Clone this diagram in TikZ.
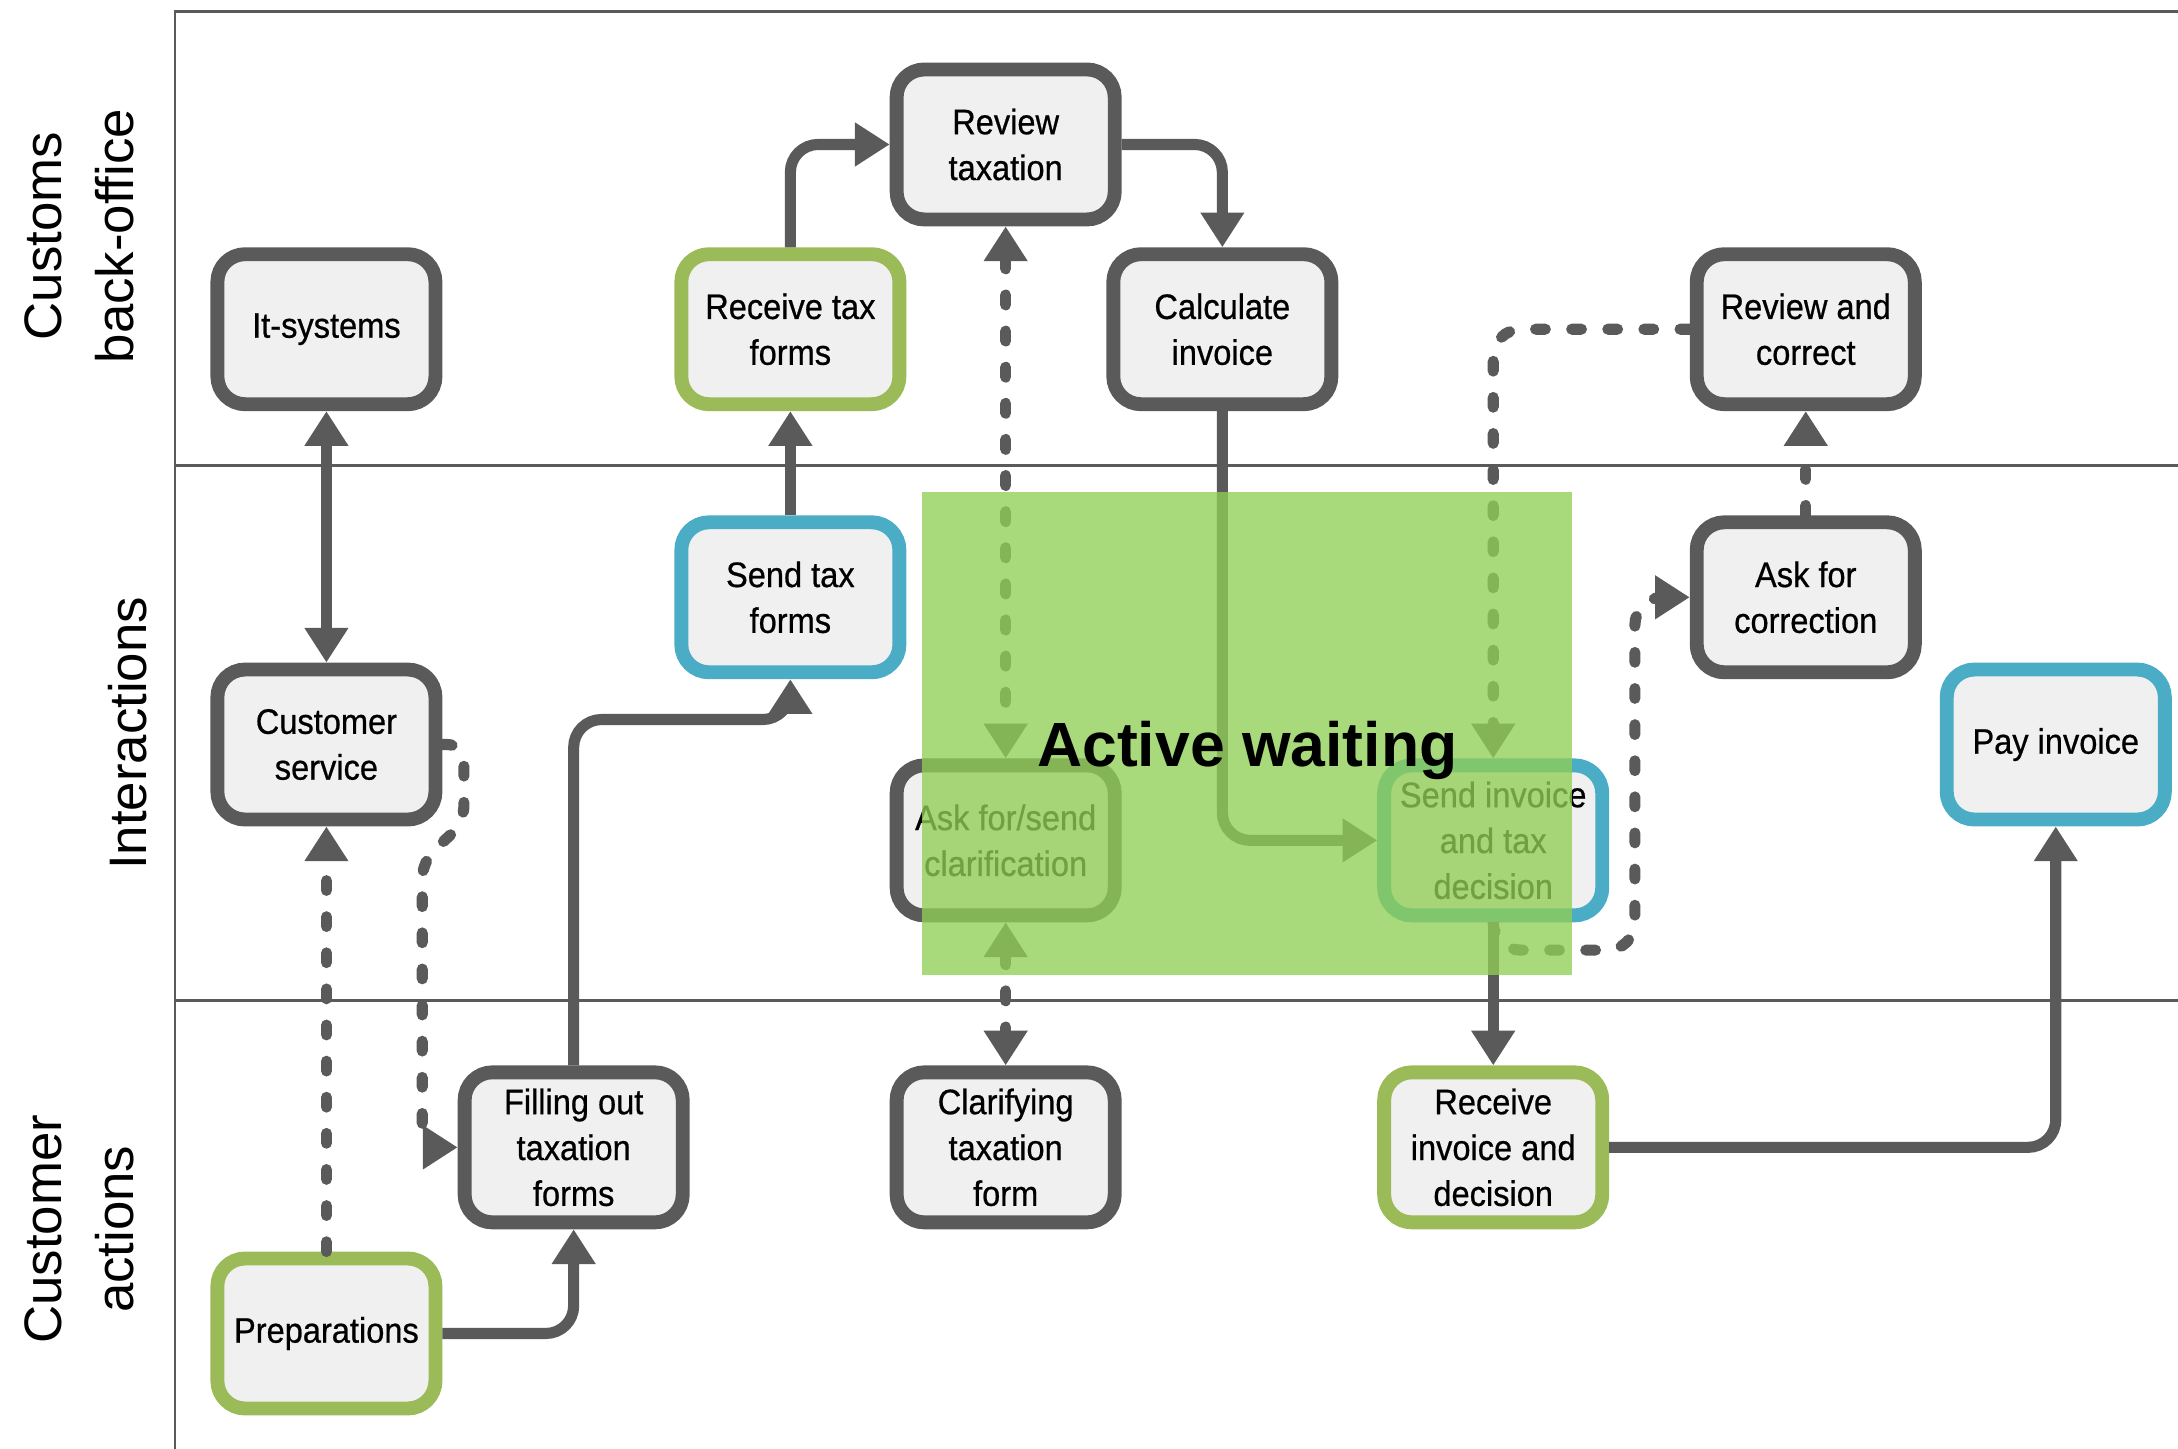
\documentclass[tikz,border=0pt]{standalone}
\usepackage{fontspec}
\setmainfont{Liberation Sans}
\newfontfamily\lanefamily{Liberation Sans}
\newfontfamily\boxfamily[FakeStretch=0.92,FakeBold=0.6]{Liberation Sans}
\usetikzlibrary{arrows.meta}
\definecolor{bgray}{RGB}{90,90,90}
\definecolor{bfill}{RGB}{240,240,240}
\definecolor{bgreen}{RGB}{155,187,89}
\definecolor{bblue}{RGB}{75,172,198}
\definecolor{awgreen}{RGB}{144,206,84}
\newcommand{\boxfont}{\boxfamily\fontsize{25.5bp}{33bp}\selectfont}
\newcommand{\lanefont}{\lanefamily\fontsize{38bp}{52bp}\selectfont}
\begin{document}
\begin{tikzpicture}[x=1bp,y=-1bp,
  >={Triangle[length=25bp,width=30bp]},
  box/.style={draw=bgray, line width=10bp, fill=bfill, rounded corners=20bp,
    minimum width=157bp, minimum height=108bp, align=center, inner sep=0pt,
    font=\boxfont, text=black},
  greenbox/.style={box, draw=bgreen},
  bluebox/.style={box, draw=bblue},
  conn/.style={draw=bgray, line width=8bp},
  dconn/.style={conn, dash pattern=on 7bp off 19bp, line cap=round},
  frameline/.style={draw=bgray, line width=2bp},
  lanelabel/.style={rotate=90, align=center, font=\lanefont, text=black, inner sep=0pt}
]
\useasboundingbox (0,0) rectangle (1568,1043);
% frame
\draw[frameline] (1568,8) -- (126,8) -- (126,1043);
\draw[frameline] (126,335) -- (1568,335);
\draw[frameline] (126,720) -- (1568,720);
% lane labels
\node[lanelabel] (lane1) at (57,170) {Customs\\back-office};
\node[lanelabel] (lane2) at (92,528) {Interactions};
\node[lanelabel] (lane3) at (57,885) {Customer\\actions};
% nodes
\node[box] (it) at (235,237) {It-systems};
\node[greenbox] (recv) at (569,237) {Receive tax\\forms};
\node[box] (review) at (724,104) {Review\\taxation};
\node[box] (calc) at (880,237) {Calculate\\invoice};
\node[box] (revcorr) at (1300,237) {Review and\\correct};
\node[bluebox] (send) at (569,430) {Send tax\\forms};
\node[box] (cs) at (235,536) {Customer\\service};
\node[box] (ask) at (724,605) {Ask for/send\\clarification};
\node[bluebox] (sendinv) at (1075,605) {Send invoice\\and tax\\decision};
\node[box] (askcorr) at (1300,430) {Ask for\\correction};
\node[bluebox] (pay) at (1480,536) {Pay invoice};
\node[box] (fill) at (413,826) {Filling out\\taxation\\forms};
\node[box] (clar) at (724,826) {Clarifying\\taxation\\form};
\node[greenbox] (recinv) at (1075,826) {Receive\\invoice and\\decision};
\node[greenbox] (prep) at (235,960) {Preparations};
% connectors
\draw[conn,<->] (it) -- (cs);
\draw[dconn,->,rounded corners=12bp] (cs.east) -- (334,536) -- (334,592) -- (304,620) -- (304,826) -- (fill.west);
\draw[dconn,->] (prep.north) -- (cs.south);
\draw[conn,->,rounded corners=20bp] (prep.east) -| (fill.south);
\draw[conn,->,rounded corners=20bp] (fill.north) -- (413,518) -- (569,518) -- (send.south);
\draw[conn,->] (send.north) -- (recv.south);
\draw[conn,->,rounded corners=20bp] (recv.north) |- (review.west);
\draw[conn,->,rounded corners=20bp] (review.east) -| (calc.north);
\draw[dconn,<->] (review.south) -- (ask.north);
\draw[dconn,<->] (ask.south) -- (clar.north);
\draw[conn,->,rounded corners=20bp] (calc.south) |- (sendinv.west);
\draw[dconn,->,rounded corners=20bp] (revcorr.west) -| (sendinv.north);
\draw[conn,->] (sendinv.south) -- (recinv.north);
\draw[dconn,->,rounded corners=20bp] (sendinv.south) -- (1075,684) -- (1177,684) |- (askcorr.west);
\draw[dconn,->] (askcorr.north) -- (revcorr.south);
\draw[conn,->,rounded corners=20bp] (recinv.east) -| (pay.south);
% active waiting overlay
\fill[awgreen, opacity=0.78] (664,354) rectangle (1132,702);
\node[font=\lanefamily\bfseries\fontsize{45bp}{50bp}\selectfont, text=black] (aw) at (898,540) {Active waiting};
\end{tikzpicture}
\end{document}
